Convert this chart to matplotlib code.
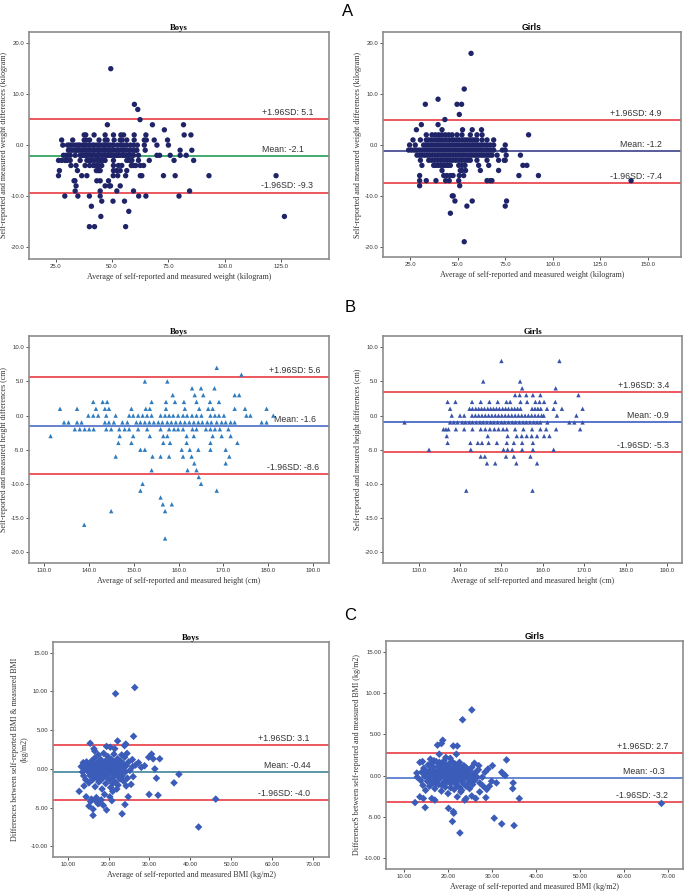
import numpy as np
import matplotlib.pyplot as plt

SERIF = 'Liberation Serif'
SANS = 'Liberation Sans'
RED = '#ea4a50'

# ---- A: weight, rows of points that share one difference (kg)
boys_weight_rows = [
    (15, [49.4]), (8, [59.9]), (7, [61.4]), (5, [62.4]),
    (4, [47.9, 67.9, 81.7]), (3, [73.2]),
    (2, [37.6, 38.3, 42.0, 46.9, 50.6, 53.9, 55.1, 59.8, 65.0, 82.0, 85.0]),
    (1, [27.6, 32.5, 37.6, 38.5, 40.0, 44.2, 46.9, 47.8, 50.9, 53.6, 54.4, 56.5, 59.8, 64.3, 65.2, 68.7, 74.6]),
    (0, [28.1, 30.2, 31.0, 31.9, 33.0, 34.1, 35.0, 35.6, 36.8, 37.5, 38.4, 39.5, 40.2, 41.4, 42.0, 43.1,
         44.0, 44.6, 45.7, 46.5, 47.2, 48.3, 49.0, 50.1, 50.7, 52.4, 53.9, 55.2, 56.4, 58.1, 59.5, 61.2,
         64.3, 69.9, 75.0]),
    (-1, [30.6, 31.5, 32.4, 33.6, 34.3, 35.1, 36.2, 37.0, 38.1, 38.8, 39.7, 40.5, 41.6, 42.3, 43.5, 44.1,
          45.0, 46.2, 46.8, 47.9, 48.6, 49.5, 50.4, 51.6, 52.5, 53.2, 54.4, 55.0, 56.1, 57.3, 58.0, 59.2,
          60.1, 61.0, 64.7, 80.2, 85.4]),
    (-2, [28.4, 29.5, 30.3, 31.4, 33.6, 35.8, 36.9, 37.6, 38.5, 39.4, 40.6, 41.2, 42.4, 43.3, 44.0, 45.2,
          45.9, 47.1, 48.0, 48.8, 49.7, 50.9, 51.8, 52.6, 53.5, 54.7, 55.5, 56.6, 57.4, 58.5, 59.5, 61.7,
          69.9, 71.1, 75.8, 80.2, 82.9]),
    (-3, [26.2, 27.6, 29.1, 30.0, 31.4, 35.8, 38.8, 39.9, 40.8, 42.1, 43.5, 44.6, 45.8, 46.9, 50.6, 56.5,
          57.6, 58.8, 61.7, 66.5, 77.5, 86.2]),
    (-4, [31.7, 34.0, 38.0, 40.0, 41.7, 43.0, 44.0, 45.4, 50.6, 52.8, 54.3, 58.5, 59.5, 60.5, 62.5, 64.0]),
    (-5, [26.6, 34.6, 43.0, 43.9, 44.7, 50.6, 52.1, 53.6, 56.5]),
    (-6, [26.2, 36.5, 38.8, 50.5, 52.5, 56.0, 62.5, 63.2, 72.8, 78.0, 93.0, 122.8]),
    (-7, [33.1, 33.5, 43.2, 44.7, 48.4]),
    (-8, [34.0, 46.9, 48.8, 49.3, 53.6]),
    (-9, [33.6, 44.7, 52.1, 59.5, 84.4]),
    (-10, [29.0, 34.8, 39.9, 44.7, 61.8, 65.0, 79.7]),
    (-11, [45.4, 50.4, 55.5]), (-12, [40.8]), (-13, [57.4]),
    (-14, [45.0, 126.5]), (-16, [39.9, 42.2, 56.0]),
]
girls_weight_rows = [
    (18, [57.0]), (11, [53.4]), (9, [39.6]), (8, [32.9, 49.6, 52.0]), (6, [50.8]), (5, [43.2]),
    (4, [30.8, 39.6]), (3, [28.2, 41.7, 52.5, 57.6, 62.5]),
    (2, [33.4, 36.4, 38.2, 39.9, 41.6, 43.4, 45.2, 47.0, 49.6, 52.2, 56.6, 60.1, 62.8, 87.3]),
    (1, [26.4, 30.3, 33.4, 34.6, 36.1, 37.5, 38.9, 40.2, 41.4, 42.8, 44.1, 45.5, 46.9, 48.1, 49.5, 50.8,
         52.3, 53.6, 55.0, 56.4, 57.7, 59.0, 60.1, 62.8, 65.4, 68.9]),
    (0, [24.6, 27.6, 32.0, 33.2, 34.5, 35.8, 37.0, 38.4, 39.6, 40.9, 42.2, 43.5, 44.8, 46.0, 47.3, 48.6,
         49.8, 51.1, 52.4, 53.7, 54.9, 56.2, 57.5, 58.7, 60.0, 61.3, 62.6, 64.1, 65.5, 67.1, 68.9, 75.0]),
    (-1, [24.1, 25.6, 27.0, 28.3, 29.7, 31.1, 32.4, 33.8, 35.1, 36.5, 37.8, 39.2, 40.5, 41.9, 43.2, 44.6,
          45.9, 47.3, 48.6, 50.0, 51.3, 52.7, 54.0, 55.4, 56.8, 58.1, 59.5, 60.8, 62.2, 63.5, 64.9, 66.2,
          67.6, 68.9, 73.5, 75.0]),
    (-2, [28.5, 29.9, 31.2, 32.6, 34.0, 35.3, 36.7, 38.1, 39.4, 40.8, 42.1, 43.5, 44.9, 46.2, 47.6, 49.0,
          50.3, 51.7, 53.0, 54.4, 55.8, 57.1, 58.5, 59.8, 61.2, 62.6, 63.9, 65.3, 66.7, 68.0, 70.7, 75.5,
          83.0]),
    (-3, [30.3, 34.7, 36.3, 37.9, 39.5, 41.0, 42.6, 44.2, 45.8, 47.3, 48.9, 50.5, 52.0, 53.6, 55.1, 56.6,
          60.1, 65.4, 71.5, 74.5, 75.0]),
    (-4, [31.1, 37.3, 38.5, 39.7, 41.0, 42.3, 43.5, 44.8, 46.1, 50.5, 52.2, 53.8, 61.0, 66.3, 84.3, 86.4]),
    (-5, [41.7, 51.3, 52.2, 54.1, 61.9, 71.5]),
    (-6, [29.9, 42.6, 44.3, 46.1, 47.5, 50.8, 53.1, 82.2, 92.5]),
    (-7, [29.9, 33.4, 38.5, 43.6, 45.5, 50.5, 65.4, 67.1, 68.0, 141.3]),
    (-8, [29.9, 51.0]), (-10, [47.1, 47.6]), (-11, [48.5, 57.6, 75.7]),
    (-12, [54.8, 75.0]), (-13.4, [46.1]), (-19, [53.4]),
]

# ---- B: height, rows of points that share one difference (cm)
boys_height_rows = [
    (7, [168.5]), (6, [174.0]), (5, [152.5, 157.5]), (4, [163.0, 165.0, 168.0]),
    (3, [158.7, 163.6, 165.5, 172.5, 173.5]),
    (2, [141.0, 143.1, 144.1, 154.0, 157.2, 159.2, 161.2, 164.0, 167.0, 169.0]),
    (1, [133.6, 137.4, 141.6, 143.6, 144.5, 149.5, 152.7, 153.6, 157.2, 161.4, 164.6, 166.6, 167.6,
         172.5, 174.8, 179.6]),
    (0, [139.9, 141.0, 142.1, 143.9, 146.0, 149.0, 149.9, 151.0, 152.0, 153.0, 154.0, 156.0, 157.0,
         157.9, 158.8, 159.9, 161.0, 161.9, 163.0, 164.0, 165.1, 167.1, 168.1, 169.0, 170.1, 175.1,
         176.0, 181.1]),
    (-1, [134.5, 135.5, 137.4, 138.4, 143.6, 144.5, 145.6, 147.5, 148.6, 150.6, 151.5, 152.5, 153.5,
          154.5, 155.5, 156.4, 157.5, 158.4, 159.4, 160.4, 161.4, 162.4, 163.4, 164.4, 165.3, 166.4,
          167.3, 168.5, 169.6, 170.5, 171.6, 172.5, 178.5, 179.6]),
    (-2, [136.9, 138.0, 139.1, 140.1, 141.1, 143.9, 145.0, 146.8, 148.0, 149.0, 151.0, 153.0, 156.0,
          157.9, 159.0, 159.9, 161.0, 163.1, 164.0, 166.1, 167.1, 168.1, 169.2, 171.1]),
    (-3, [131.5, 146.9, 149.9, 153.6, 156.6, 157.5, 161.8, 163.4, 167.6, 169.6, 171.6]),
    (-4, [146.6, 149.5, 156.6, 158.1, 161.8, 167.1, 173.1]),
    (-5, [151.5, 152.5, 160.7, 162.5, 164.4, 167.1, 170.5]),
    (-6, [146.0, 154.2, 156.0, 157.9, 161.0, 162.9, 171.3]),
    (-7, [163.5, 170.5]), (-8, [154.0, 162.0, 164.0]), (-9, [164.5]),
    (-10, [152.0, 165.0]), (-11, [151.5, 168.5]), (-12, [156.0]),
    (-13, [156.5, 158.5]), (-14, [145.0, 157.0]), (-16, [139.0]), (-18, [157.0]),
]
girls_height_rows = [
    (8, [150.0, 164.0]), (5, [145.6, 154.5]), (4, [155.0, 163.1]),
    (3, [153.3, 154.4, 156.0, 157.6, 159.4, 168.6]),
    (2, [137.0, 138.9, 142.9, 145.0, 147.1, 149.1, 151.2, 152.1, 154.6, 156.2, 158.2, 159.2, 160.3,
         163.0]),
    (1, [137.6, 142.3, 143.0, 143.8, 144.5, 145.2, 145.9, 146.7, 147.4, 148.1, 148.8, 149.5, 150.3,
         151.0, 151.7, 152.5, 153.2, 153.9, 154.6, 157.4, 158.1, 158.8, 159.5, 161.0, 162.6, 164.6,
         169.6]),
    (0, [138.0, 140.0, 141.0, 142.9, 143.7, 144.5, 145.3, 146.1, 146.9, 147.7, 148.5, 149.3, 150.1,
         150.9, 151.7, 152.5, 153.3, 154.1, 154.9, 155.7, 156.5, 157.3, 158.1, 158.9, 159.7, 160.2,
         163.4, 168.1]),
    (-1, [126.6, 137.6, 138.5, 139.4, 140.5, 141.3, 142.2, 143.0, 143.9, 144.8, 145.6, 146.5, 147.4,
          148.2, 149.1, 150.0, 150.8, 151.7, 152.6, 153.4, 154.3, 155.2, 156.0, 156.9, 157.8, 158.6,
          159.4, 161.1, 166.4, 167.6, 169.6]),
    (-2, [136.0, 136.6, 137.2, 139.0, 141.0, 143.0, 145.0, 146.1, 147.2, 148.3, 149.3, 150.4, 151.3,
          153.3, 155.3, 157.4, 159.4, 160.8, 163.2, 169.0]),
    (-3, [136.8, 146.7, 151.5, 153.7, 154.9, 156.1, 157.3, 158.6, 160.3, 161.6]),
    (-4, [137.0, 142.5, 144.3, 145.3, 146.9, 148.9, 151.3, 153.0, 155.0, 157.6]),
    (-5, [132.5, 142.6, 150.5, 151.5, 152.6, 155.0, 157.6, 162.6]),
    (-6, [145.0, 146.0, 151.1, 153.0, 157.0]),
    (-7, [146.5, 148.5, 153.6, 158.6]),
    (-11, [141.5, 157.5]),
]

# ---- C: BMI, (average, difference) pairs (kg/m2)
boys_bmi = [
    (26.4, 10.5), (21.7, 9.7), (26.1, 4.2), (22.2, 3.6), (15.5, 3.3), (19.5, 2.9), (20.4, 2.8),
    (24.2, 3.2), (23.9, 3.0), (16.4, 2.6), (16.6, 2.3), (21.5, 2.6), (30.5, 1.9), (29.8, 1.5),
    (30.9, 1.3), (32.5, 1.3), (28.8, 0.4), (28.0, 0.2), (31.3, 0.0), (31.7, -1.2), (37.2, -0.7),
    (36.0, -1.8), (29.9, -3.3), (32.1, -3.4), (24.0, -4.6), (46.2, -3.9), (42.0, -7.5), (12.8, -2.9),
    (19.5, -5.3), (16.2, -5.2), (15.2, -4.8), (16.2, -6.0), (23.3, -5.8), (17.8, -4.4), (26.0, -1.0),
    (26.6, 0.5), (27.3, 0.8), (25.8, 1.2), (24.5, 2.0), (23.2, 1.8), (14.0, -2.2), (14.5, -3.6),
    (15.8, -3.9), (17.0, -3.7), (18.2, -4.0), (19.0, -3.3), (20.3, -3.6), (21.0, -2.9), (22.0, -2.6),
    (24.3, -2.2), (24.8, -3.6), (18.7, -4.7), (17.4, -4.5), (16.8, -4.1), (15.6, -4.2), (20.8, -4.1),
    (13.3, 0.3), (13.6, -0.4), (13.9, -0.9), (14.2, 0.1), (14.4, -1.4), (14.8, 0.6), (14.9, -0.3),
    (15.2, -1.8), (15.4, 0.2), (15.5, -0.9), (15.8, 1.0), (15.9, -0.2), (16.1, -1.4), (16.3, 0.5),
    (16.4, -0.6), (16.6, 1.4), (16.7, -2.3), (16.9, 0.1), (17.0, -1.0), (17.2, 0.8), (17.3, -0.4),
    (17.5, 1.8), (17.6, -1.7), (17.8, 0.3), (17.9, -0.8), (18.1, 1.2), (18.2, -0.1), (18.4, -2.6),
    (18.5, 0.7), (18.6, -1.2), (18.8, 2.0), (18.9, 0.2), (19.0, -0.5), (19.2, 1.0), (19.3, -1.9),
    (19.5, 0.4), (19.6, -0.9), (19.8, 1.6), (19.9, -0.2), (20.1, 0.8), (20.2, -1.4), (20.4, 0.1),
    (20.5, -2.4), (20.7, 1.2), (20.8, -0.6), (21.0, 0.5), (21.1, -1.1), (21.3, 1.9), (21.4, -0.1),
    (21.6, 0.9), (21.7, -1.7), (21.9, 0.3), (22.0, -0.7), (22.2, 1.3), (22.3, -2.1), (22.5, 0.6),
    (22.6, -0.3), (22.8, -1.3), (22.9, 1.0), (23.1, 0.2), (23.3, -0.9), (23.5, 0.7), (23.7, -1.6),
    (23.9, 1.5), (24.1, -0.4), (24.3, 0.4), (24.6, -1.2), (24.9, 0.9), (25.2, -0.2), (25.5, -2.0),
    (25.9, 0.3), (14.6, 0.9), (15.1, 0.4), (15.7, 0.7), (16.0, 0.0), (16.5, -0.2), (17.1, 0.4),
    (17.7, 0.0), (18.0, 0.5), (18.3, 0.0), (18.7, -0.3), (19.1, 0.6), (19.4, 0.0), (19.7, 0.2),
    (20.0, -0.4), (20.3, 0.5), (20.6, -0.1), (20.9, 0.2), (21.2, 0.0), (21.5, 0.4), (21.8, -0.4),
    (22.1, 0.0), (22.4, 0.2), (22.7, 0.4), (23.0, -0.2), (23.4, 0.0), (15.3, -0.5), (16.2, -1.0),
    (17.4, -1.3), (18.0, -1.5), (19.8, -1.2), (21.0, -1.9), (22.4, -1.0), (13.8, 0.8), (14.1, 0.5),
]
girls_bmi = [
    (25.4, 8.0), (23.3, 6.8), (18.8, 4.3), (18.5, 3.9), (17.6, 3.7), (21.2, 3.6), (22.1, 3.6),
    (13.6, 1.6), (14.2, 1.7), (18.0, 2.6), (21.9, 2.6), (33.3, 1.9), (30.1, 1.2), (32.2, 0.4),
    (32.5, 0.2), (33.0, 0.0), (34.8, -0.9), (34.7, -1.6), (36.2, -2.8), (12.5, -3.3), (14.8, -3.9),
    (20.1, -4.0), (21.2, -4.4), (21.3, -4.6), (21.0, -5.6), (22.7, -7.0), (30.5, -5.2), (32.2, -5.9),
    (35.0, -6.1), (68.5, -3.4), (26.3, -2.8), (24.1, -2.8), (28.8, -1.7), (28.0, -1.3), (29.9, -0.7),
    (31.0, -0.9), (29.4, -1.3), (28.6, -2.7), (23.8, -3.0), (13.6, -2.6), (14.4, -2.8), (16.3, -2.8),
    (17.0, -3.0), (22.1, -2.6), (25.4, -2.5), (27.2, -2.0), (22.9, -2.0), (29.1, 0.8), (28.4, 0.4),
    (27.8, -0.2), (27.0, 1.2), (26.0, 1.5), (19.5, 2.2), (20.5, 2.1), (16.0, 2.0), (16.8, 1.8),
    (13.0, -0.2), (12.9, 0.3),
    (13.8, -0.6), (14.0, 0.4), (14.3, -1.2), (14.5, 0.9), (14.7, -0.1), (14.9, -1.8), (15.1, 0.5),
    (15.3, -0.7), (15.5, 1.3), (15.6, 0.0), (15.8, -1.3), (16.0, 0.7), (16.1, -0.4), (16.3, 1.5),
    (16.4, 0.2), (16.6, -0.9), (16.7, 1.0), (16.9, -0.2), (17.0, -1.6), (17.2, 0.5), (17.3, 1.7),
    (17.5, -0.6), (17.6, 0.1), (17.8, 1.1), (17.9, -1.1), (18.1, 0.4), (18.2, -0.3), (18.4, 1.4),
    (18.5, -1.9), (18.7, 0.8), (18.8, 0.0), (19.0, -0.8), (19.1, 1.8), (19.3, 0.3), (19.4, -1.4),
    (19.6, 1.0), (19.7, -0.4), (19.9, 0.6), (20.0, -2.2), (20.2, 1.4), (20.3, -0.1), (20.5, 0.9),
    (20.6, -1.0), (20.8, 0.2), (20.9, 1.7), (21.1, -0.6), (21.2, 0.5), (21.4, -1.7), (21.5, 1.1),
    (21.7, -0.2), (21.8, 0.7), (22.0, -1.2), (22.1, 0.0), (22.3, 1.3), (22.4, -0.5), (22.6, 0.4),
    (22.7, -1.5), (22.9, 0.9), (23.0, -0.1), (23.2, 0.6), (23.3, -0.9), (23.5, 0.2), (23.6, 1.2),
    (23.8, -0.4), (23.9, 0.5), (24.1, -1.3), (24.3, 0.8), (24.4, -0.2), (24.6, 0.3), (24.8, -0.8),
    (25.0, 0.6), (25.2, -0.3), (25.4, 1.0), (25.6, -1.1), (25.8, 0.1), (26.0, -0.6), (26.3, 0.4),
    (26.6, -0.2), (26.9, 0.7), (27.2, -0.9),
    (15.0, 0.2), (15.9, 0.3), (16.5, -0.1), (17.1, 0.0), (17.7, 0.5), (18.3, 0.2), (18.9, 0.6),
    (19.2, -0.2), (19.8, 0.2), (20.1, 0.4), (20.4, -0.5), (20.7, 0.6), (21.0, 0.0), (21.3, 0.3),
    (21.6, 0.4), (21.9, -0.4), (22.2, 0.2), (22.5, -0.1), (22.8, 0.3), (23.1, -0.5), (23.4, 0.0),
    (23.7, 0.3), (24.0, -0.1), (24.5, 0.1), (16.2, -0.8), (17.4, -1.0), (18.6, -1.2), (19.5, -0.9),
    (20.6, -1.5), (21.8, -1.0), (23.1, -1.8), (24.9, -1.6), (18.0, 1.6), (19.4, 1.3), (20.5, 1.5),
    (21.6, 1.4), (22.6, 1.6), (24.0, 1.0),
]

# mean and limits of agreement (lower, mean, upper) per panel
boys_weight_limits = (-9.3, -2.1, 5.1)
girls_weight_limits = (-7.4, -1.2, 4.9)
boys_height_limits = (-8.6, -1.6, 5.6)
girls_height_limits = (-5.3, -0.9, 3.4)
boys_bmi_limits = (-4.0, -0.44, 3.1)
girls_bmi_limits = (-3.2, -0.3, 2.7)
bmi_label_text = {'boys': ('-1.96SD: -4.0', 'Mean: -0.44', '+1.96SD: 3.1'),
                  'girls': ('-1.96SD: -3.2', 'Mean: -0.3', '+1.96SD: 2.7')}


def unpack_rows(rows):
    xs, ys = [], []
    for y, row in rows:
        xs += row
        ys += [y] * len(row)
    return np.array(xs), np.array(ys)


def unpack_pairs(pairs):
    arr = np.array(pairs)
    return arr[:, 0], arr[:, 1]


def px_rect(left, top, right, bottom):
    return [left / 685, 1 - bottom / 896, (right - left) / 685, (bottom - top) / 896]


def bland_altman(fig, rect, x, y, limits, labels, mean_color, marker, mcolor, msize,
                 xlim, ylim, xticks, yticks, fmt, title, title_font, xlabel, ylabel, label_x):
    ax = fig.add_axes(px_rect(*rect))
    lo, mean, hi = limits
    ax.axhline(hi, color=RED, lw=1.3, zorder=2)
    ax.axhline(lo, color=RED, lw=1.3, zorder=2)
    ax.axhline(mean, color=mean_color, lw=1.3, zorder=2)
    ax.scatter(x, y, marker=marker, s=msize, color=mcolor, edgecolors='none', zorder=3)

    for val, txt, fx in zip(limits, labels, label_x):
        ax.annotate(txt, xy=(fx, val), xycoords=('axes fraction', 'data'),
                    xytext=(0, 1.5), textcoords='offset points', ha='right', va='bottom',
                    fontsize=6.3, family=SANS, color='#333333')

    ax.set_xlim(*xlim)
    ax.set_ylim(*ylim)
    ax.set_xticks(xticks)
    ax.set_yticks(yticks)
    ax.set_xticklabels([fmt % v for v in xticks], family=SANS)
    ax.set_yticklabels([fmt % v for v in yticks], family=SANS)
    ax.tick_params(direction='out', length=2.5, width=0.6, labelsize=4.3, pad=1,
                   colors='#333333')
    for sp in ax.spines.values():
        sp.set_color('#8c8c8c')
        sp.set_linewidth(1.2)
    ax.set_title(title, fontsize=6.2, fontweight='bold', family=title_font, pad=1.5)
    ax.set_xlabel(xlabel, fontsize=5.8, family=SERIF, color='#333333', labelpad=3)
    ax.set_ylabel(ylabel, fontsize=5.8, family=SERIF, color='#333333', labelpad=2)
    return ax


fig = plt.figure(figsize=(6.85, 8.96), dpi=100)

wt_label = ('-1.96SD: %.1f', 'Mean: %.1f', '+1.96SD: %.1f')

x, y = unpack_rows(boys_weight_rows)
bland_altman(fig, (29, 32, 329, 259), x, y, boys_weight_limits,
             [f % v for f, v in zip(wt_label, boys_weight_limits)],
             '#35a463', 'o', '#1f2468', 15,
             (13.1, 146.3), (-22.35, 22.2), [25, 50, 75, 100, 125], [-20, -10, 0, 10, 20], '%.1f',
             'Boys', SERIF, 'Average of self-reported and measured weight (kilogram)',
             'Self-reported and measured weight differences (kilogram)', (0.947, 0.917, 0.947))

x, y = unpack_rows(girls_weight_rows)
bland_altman(fig, (383, 32, 681, 257), x, y, girls_weight_limits,
             [f % v for f, v in zip(wt_label, girls_weight_limits)],
             '#4a4e90', 'o', '#1f2468', 15,
             (10.6, 167.6), (-22.0, 22.2), [25, 50, 75, 100, 125, 150], [-20, -10, 0, 10, 20], '%.1f',
             'Girls', SANS, 'Average of self-reported and measured weight (kilogram)',
             'Self-reported and measured weight differences (kilogram)', (0.935, 0.935, 0.935))

x, y = unpack_rows(boys_height_rows)
bland_altman(fig, (29, 336, 329, 563), x, y, boys_height_limits,
             [f % v for f, v in zip(wt_label, boys_height_limits)],
             '#5a78cc', '^', '#2e7bbf', 10,
             (126.7, 193.5), (-21.6, 11.66), [130, 140, 150, 160, 170, 180, 190],
             [-20, -15, -10, -5, 0, 5, 10], '%.1f',
             'Boys', SERIF, 'Average of self-reported and measured height (cm)',
             'Self-reported and measured height differences (cm)', (0.967, 0.957, 0.973))

x, y = unpack_rows(girls_height_rows)
bland_altman(fig, (383, 336, 682, 563), x, y, girls_height_limits,
             [f % v for f, v in zip(wt_label, girls_height_limits)],
             '#4a6ac8', '^', '#3852a8', 10,
             (121.4, 193.6), (-21.6, 11.66), [130, 140, 150, 160, 170, 180, 190],
             [-20, -15, -10, -5, 0, 5, 10], '%.1f',
             'Girls', SERIF, 'Average of self-reported and measured height (cm)',
             'Self-reported and mesured height differences (cm)', (0.957, 0.957, 0.957))

x, y = unpack_pairs(boys_bmi)
bland_altman(fig, (53, 642, 329, 857), x, y, boys_bmi_limits, bmi_label_text['boys'],
             '#4d8fa3', 'D', '#3b5cb8', 15,
             (6.4, 73.9), (-11.37, 16.37), [10, 20, 30, 40, 50, 60, 70], [-10, -5, 0, 5, 10, 15], '%.2f',
             'Boys', SERIF, 'Average of self-reported and measured BMI (kg/m2)',
             'Differences between self-reported BMI & measured BMI\n(kg/m2)', (0.931, 0.935, 0.931))

x, y = unpack_pairs(girls_bmi)
bland_altman(fig, (386, 641, 683, 869), x, y, girls_bmi_limits, bmi_label_text['girls'],
             '#5a7fd0', 'D', '#3b5cb8', 15,
             (5.9, 73.4), (-11.4, 16.4), [10, 20, 30, 40, 50, 60, 70], [-10, -5, 0, 5, 10, 15], '%.2f',
             'Girls', SANS, 'Average of self-reported and measured BMI (kg/m2)',
             'DifferenceS between self-reported and measured BMI (kg/m2)', (0.95, 0.94, 0.95))

for letter, (lx, ly) in zip('ABC', [(348, 12), (350, 308), (350, 615)]):
    fig.text(lx / 685, 1 - ly / 896, letter, fontsize=12, family=SANS, ha='center', va='center')

fig.savefig('out.png', dpi=100)
